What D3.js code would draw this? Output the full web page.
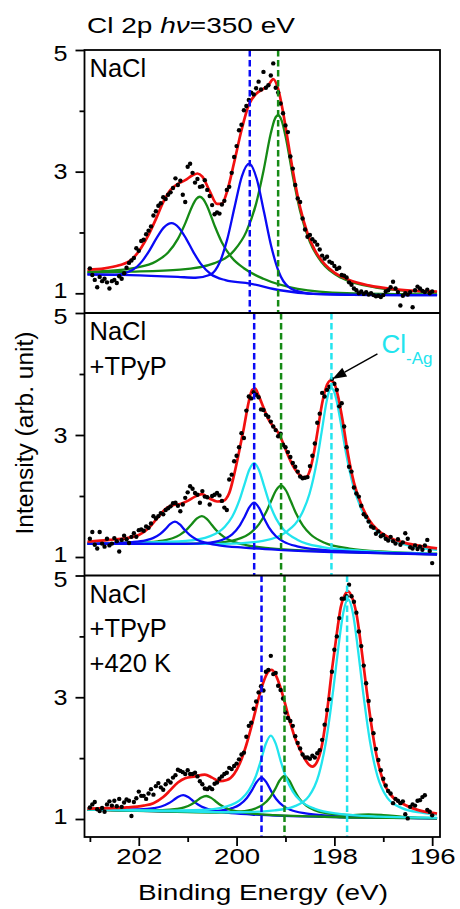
<!DOCTYPE html>
<html><head><meta charset="utf-8">
<script src="https://cdn.jsdelivr.net/npm/d3@7/dist/d3.min.js"></script>
<style>
html,body{margin:0;padding:0;background:#fff;}
svg{display:block;}
text{font-family:"Liberation Sans",Arial,Helvetica,sans-serif;fill:#000;}
</style></head><body>
<svg id="chart" width="460" height="909"></svg>
<script>
// ---------------- data ----------------
const xTicks = [202, 200, 198, 196];
const xMinor = [203, 201, 199, 197];
const yTicks = [1, 3, 5];
const yMinor = [2, 4];
const dotStart = 203.0, dotStep = 0.05;

const topDots = [1.41,1.30,1.22,1.10,1.27,1.20,1.24,1.18,1.08,1.20,
1.22,1.17,1.28,1.24,1.33,1.42,1.50,1.54,1.58,1.74,
1.70,1.86,1.88,1.97,2.03,2.10,2.28,2.35,2.44,2.48,
2.58,2.55,2.62,2.66,2.73,2.89,2.78,2.85,2.62,2.50,
3.08,3.13,2.98,2.82,2.88,2.75,2.76,2.86,2.70,2.60,
2.45,2.30,2.33,2.31,2.46,2.52,2.70,2.75,2.98,3.24,
3.42,3.68,3.77,4.01,4.08,4.18,4.30,4.27,4.37,4.48,
4.35,4.64,4.38,4.42,4.58,4.78,4.38,4.30,4.12,3.96,
3.76,3.65,3.25,3.05,2.78,2.56,2.50,2.23,2.05,1.93,
1.96,1.89,1.85,1.80,1.72,1.62,1.57,1.60,1.52,1.50,
1.45,1.40,1.42,1.30,1.29,1.26,1.18,1.14,1.08,1.05,
1.00,1.03,0.99,1.02,0.98,1.00,0.97,0.95,0.96,0.94,
0.97,1.03,1.05,1.10,1.19,1.08,1.02,0.80,0.96,1.00,
0.98,1.02,0.77,1.05,1.11,1.08,1.04,1.02,1.06,1.00,
1.03];

const midDots = [1.30,1.41,1.20,1.14,1.41,1.22,1.17,1.30,1.19,1.22,
1.31,1.26,1.09,1.28,1.35,1.29,1.23,1.33,1.39,1.33,
1.44,1.45,1.43,1.50,1.48,1.55,1.67,1.63,1.67,1.72,
1.70,1.77,1.80,1.83,1.88,1.89,1.84,1.75,1.86,1.97,
2.06,2.16,2.12,2.05,2.02,1.89,2.08,1.99,1.98,1.86,
2.00,2.02,2.05,2.01,1.92,1.81,1.77,2.27,2.35,2.57,
2.66,2.80,3.03,2.95,3.40,3.63,3.60,3.70,3.66,3.62,
3.42,3.41,3.33,3.30,3.22,3.14,3.08,2.98,3.02,2.84,
2.80,2.72,2.64,2.54,2.48,2.40,2.32,2.29,2.30,2.31,
2.49,2.66,2.86,3.20,3.35,3.69,3.63,3.74,3.79,3.92,
3.84,3.74,3.47,3.52,3.14,2.80,2.48,2.40,2.14,2.04,
1.99,1.84,1.70,1.66,1.58,1.50,1.48,1.38,1.42,1.34,
1.36,1.30,1.27,1.33,1.26,1.22,1.29,1.20,1.24,1.39,
1.30,1.16,1.14,1.19,1.13,1.17,1.12,1.19,1.28,1.10,
0.90];

const botDots = [1.19,1.24,1.28,1.16,1.13,1.18,1.12,1.24,1.29,1.22,
1.30,1.21,1.33,1.20,1.27,1.32,1.30,1.05,1.28,1.34,
1.45,1.38,1.38,1.33,1.42,1.49,1.40,1.54,1.59,1.52,
1.48,1.57,1.63,1.60,1.68,1.72,1.81,1.79,1.77,1.74,
1.80,1.74,1.74,1.76,1.70,1.62,1.57,1.50,1.49,1.52,
1.49,1.58,1.60,1.66,1.70,1.74,1.76,1.84,1.82,1.87,
1.91,1.98,2.06,2.09,2.35,2.53,2.58,2.81,2.93,3.08,
3.18,3.11,3.42,3.45,3.68,3.38,3.40,3.19,3.12,2.98,
2.75,2.66,2.61,2.53,2.36,2.25,2.16,2.06,2.01,2.01,
1.99,2.04,2.01,2.08,2.13,2.30,2.55,2.79,2.97,3.42,
3.78,4.00,4.30,4.62,4.62,4.66,4.85,4.66,4.57,4.39,
4.08,3.84,3.52,3.23,2.94,2.63,2.41,2.15,1.97,1.80,
1.66,1.55,1.46,1.42,1.26,1.33,1.30,1.26,1.29,1.08,
1.01,1.20,1.24,1.22,1.30,1.31,1.36,1.39,1.15,1.12,
1.06];

// --- top panel (NaCl) fitted curves [binding energy, intensity]
const topBlue1 = [[203.05,1.31],[202.5,1.304],[202.13,1.384],[201.93,1.529],[201.78,1.707],[201.63,1.917],[201.48,2.089],[201.33,2.154],[201.18,2.079],[201.03,1.896],[200.88,1.674],[200.73,1.483],[200.53,1.317],[200.23,1.217],[199.73,1.16],[199.11,1.05],[198.43,0.99],[197.68,0.975],[195.9,0.97]];
const topBlue2 = [[203.05,1.31],[202.18,1.30],[201.2,1.27],[200.84,1.256],[200.54,1.305],[200.34,1.518],[200.19,1.89],[200.04,2.421],[199.89,2.928],[199.74,3.131],[199.59,2.888],[199.44,2.341],[199.29,1.77],[199.14,1.358],[198.94,1.106],[198.64,1.012],[198.43,0.99],[197.68,0.975],[195.9,0.97]];
const topGreen1 = [[203.05,1.353],[202.75,1.363],[202.05,1.423],[201.65,1.524],[201.4,1.671],[201.2,1.894],[201.05,2.149],[200.9,2.444],[200.82,2.554],[200.75,2.587],[200.68,2.547],[200.6,2.428],[200.45,2.113],[200.3,1.836],[200.1,1.589],[199.85,1.412],[199.45,1.238],[198.75,1.074],[197.75,1.001],[196.75,0.987],[195.9,0.98]];
const topGreen2 = [[203.05,1.343],[202.15,1.355],[201.15,1.388],[200.45,1.497],[200.05,1.704],[199.8,2.014],[199.6,2.474],[199.45,3.011],[199.3,3.63],[199.22,3.862],[199.15,3.927],[199.08,3.842],[199.0,3.586],[198.85,2.927],[198.7,2.351],[198.5,1.843],[198.25,1.50],[197.85,1.25],[197.15,1.095],[196.15,1.025],[195.9,1.017]];
const topRed = [[203.05,1.39],[202.7,1.41],[202.4,1.46],[202.15,1.55],[201.95,1.75],[201.8,1.96],[201.65,2.22],[201.5,2.50],[201.35,2.70],[201.2,2.80],[201.05,2.86],[200.9,2.94],[200.8,2.97],[200.7,2.92],[200.55,2.68],[200.4,2.47],[200.3,2.47],[200.2,2.66],[200.05,3.15],[199.9,3.68],[199.75,4.10],[199.6,4.28],[199.45,4.36],[199.35,4.42],[199.25,4.52],[199.15,4.36],[199.05,3.98],[198.95,3.50],[198.85,3.02],[198.7,2.41],[198.55,1.99],[198.4,1.71],[198.2,1.48],[198.0,1.34],[197.7,1.22],[197.3,1.13],[196.8,1.07],[196.3,1.04],[195.9,1.03]];

// --- middle panel (NaCl + TPyP)
const midBlue1 = [[203.05,1.219],[202.5,1.229],[202.16,1.243],[201.86,1.273],[201.71,1.309],[201.56,1.379],[201.46,1.453],[201.36,1.539],[201.26,1.581],[201.16,1.534],[201.06,1.443],[200.96,1.363],[200.81,1.284],[200.66,1.239],[200.36,1.192],[199.86,1.153],[199.06,1.114],[198.06,1.082],[196.9,1.059],[195.9,1.041]];
const midGreen1 = [[203.05,1.22],[202.3,1.231],[201.81,1.243],[201.61,1.257],[201.31,1.308],[201.16,1.363],[201.01,1.457],[200.91,1.545],[200.81,1.633],[200.71,1.671],[200.61,1.626],[200.51,1.53],[200.41,1.434],[200.26,1.33],[200.11,1.264],[199.81,1.196],[199.31,1.143],[198.51,1.103],[197.51,1.074],[195.9,1.042]];
const midBlue2 = [[203.05,1.216],[202.0,1.217],[201.04,1.215],[200.54,1.237],[200.24,1.298],[200.09,1.371],[199.94,1.509],[199.84,1.653],[199.74,1.813],[199.64,1.89],[199.54,1.805],[199.44,1.637],[199.34,1.486],[199.19,1.336],[199.04,1.252],[198.74,1.17],[198.24,1.115],[197.44,1.081],[196.24,1.052],[195.9,1.045]];
const midCyan1 = [[203.05,1.224],[202.0,1.235],[201.04,1.263],[200.54,1.342],[200.24,1.497],[200.09,1.66],[199.94,1.935],[199.84,2.186],[199.74,2.431],[199.64,2.54],[199.54,2.423],[199.44,2.17],[199.34,1.912],[199.19,1.625],[199.04,1.451],[198.74,1.275],[198.24,1.163],[197.44,1.101],[196.24,1.06],[195.9,1.052]];
const midGreen2 = [[203.05,1.219],[201.29,1.219],[200.49,1.229],[199.99,1.289],[199.69,1.413],[199.54,1.539],[199.39,1.745],[199.29,1.927],[199.19,2.097],[199.09,2.169],[198.99,2.09],[198.89,1.913],[198.79,1.725],[198.64,1.509],[198.49,1.373],[198.19,1.229],[197.69,1.139],[196.89,1.085],[195.9,1.053]];
const midCyan2 = [[203.05,1.222],[201.26,1.219],[200.26,1.214],[199.46,1.265],[198.96,1.425],[198.66,1.721],[198.51,2.033],[198.36,2.562],[198.26,3.051],[198.16,3.546],[198.11,3.71],[198.06,3.769],[198.01,3.72],[197.96,3.584],[197.86,3.158],[197.76,2.696],[197.61,2.155],[197.46,1.808],[197.16,1.452],[196.66,1.229],[196.2,1.147],[195.9,1.117]];
const midRed = [[203.05,1.25],[202.6,1.28],[202.25,1.31],[202.0,1.36],[201.8,1.47],[201.6,1.66],[201.45,1.79],[201.3,1.85],[201.15,1.87],[201.0,1.92],[200.85,1.99],[200.71,2.03],[200.55,1.96],[200.4,1.91],[200.28,1.92],[200.15,2.05],[200.05,2.35],[199.95,2.72],[199.85,3.12],[199.75,3.55],[199.68,3.74],[199.62,3.76],[199.55,3.65],[199.45,3.45],[199.35,3.26],[199.25,3.14],[199.15,3.04],[199.05,2.87],[198.95,2.67],[198.85,2.50],[198.75,2.38],[198.65,2.31],[198.58,2.31],[198.5,2.42],[198.42,2.70],[198.34,3.08],[198.25,3.52],[198.17,3.78],[198.08,3.89],[198.0,3.84],[197.92,3.62],[197.82,3.18],[197.72,2.68],[197.6,2.22],[197.45,1.86],[197.3,1.62],[197.1,1.43],[196.9,1.33],[196.6,1.24],[196.3,1.19],[195.9,1.14]];

// --- bottom panel (NaCl + TPyP + 420 K)
const botBlue1 = [[203.05,1.157],[202.49,1.153],[201.99,1.159],[201.69,1.179],[201.54,1.205],[201.39,1.257],[201.29,1.31],[201.19,1.367],[201.09,1.393],[200.99,1.361],[200.89,1.298],[200.79,1.239],[200.64,1.178],[200.49,1.143],[200.19,1.105],[199.69,1.074],[198.89,1.048],[197.89,1.029],[195.9,1.011]];
const botGreen1 = [[203.05,1.154],[202.02,1.143],[201.52,1.145],[201.22,1.165],[201.07,1.191],[200.92,1.243],[200.82,1.296],[200.72,1.353],[200.62,1.378],[200.52,1.347],[200.42,1.284],[200.32,1.225],[200.17,1.164],[200.02,1.129],[199.72,1.091],[199.22,1.062],[198.42,1.042],[197.42,1.021],[195.9,1.011]];
const botBlue2 = [[203.05,1.154],[201.69,1.13],[200.89,1.119],[200.39,1.134],[200.09,1.178],[199.94,1.234],[199.79,1.344],[199.69,1.465],[199.59,1.607],[199.49,1.68],[199.39,1.602],[199.29,1.455],[199.19,1.329],[199.04,1.211],[198.89,1.148],[198.59,1.091],[198.09,1.053],[197.29,1.026],[196.29,1.016],[195.9,1.014]];
const botCyan1 = [[203.05,1.158],[201.5,1.139],[200.7,1.149],[200.2,1.208],[199.9,1.331],[199.75,1.47],[199.6,1.718],[199.5,1.968],[199.4,2.241],[199.3,2.371],[199.2,2.237],[199.1,1.96],[199.0,1.705],[198.85,1.45],[198.7,1.304],[198.4,1.168],[197.9,1.084],[197.1,1.04],[196.1,1.022],[195.9,1.02]];
const botGreen2 = [[203.05,1.153],[201.22,1.117],[200.42,1.107],[199.92,1.123],[199.62,1.171],[199.47,1.231],[199.32,1.349],[199.22,1.479],[199.12,1.632],[199.02,1.71],[198.92,1.629],[198.82,1.472],[198.72,1.339],[198.57,1.215],[198.42,1.149],[198.12,1.087],[197.62,1.064],[197.3,1.075],[197.0,1.064],[196.6,1.036],[195.9,1.015]];
const botCyan2 = [[203.05,1.157],[200.92,1.12],[199.92,1.111],[199.22,1.142],[198.82,1.207],[198.52,1.375],[198.32,1.724],[198.17,2.278],[198.02,3.141],[197.92,3.808],[197.82,4.38],[197.72,4.61],[197.62,4.377],[197.52,3.801],[197.42,3.129],[197.27,2.264],[197.12,1.706],[196.92,1.352],[196.62,1.179],[196.22,1.104],[195.9,1.074]];
const botRed = [[203.05,1.17],[202.6,1.18],[202.25,1.19],[201.9,1.22],[201.7,1.26],[201.5,1.36],[201.36,1.47],[201.2,1.60],[201.05,1.67],[200.85,1.70],[200.65,1.73],[200.5,1.68],[200.35,1.62],[200.2,1.64],[200.05,1.74],[199.93,1.92],[199.8,2.22],[199.66,2.63],[199.55,2.98],[199.45,3.25],[199.35,3.42],[199.28,3.45],[199.18,3.33],[199.05,3.02],[198.95,2.72],[198.8,2.32],[198.64,2.04],[198.52,1.89],[198.45,1.86],[198.36,1.93],[198.27,2.15],[198.16,2.70],[198.05,3.45],[197.95,4.05],[197.87,4.48],[197.8,4.66],[197.72,4.74],[197.63,4.62],[197.55,4.38],[197.45,3.82],[197.35,3.18],[197.25,2.58],[197.14,2.05],[197.0,1.62],[196.85,1.40],[196.6,1.25],[196.3,1.15],[195.9,1.09]];

// peak-position markers (dashed lines)
const dashTop = [199.73, 199.15];
const dashMid = [199.64, 199.09, 198.06];
const dashBot = [199.49, 199.02, 197.74];

const labelsTop = ["NaCl"];
const labelsMid = ["NaCl", "+TPyP"];
const labelsBot = ["NaCl", "+TPyP", "+420 K"];
const clAgPeak = [198.06, 3.92];

// ---------------- styling ----------------
const colBlue = "#0a0af5", colGreen = "#158a15", colCyan = "#22e4ee", colRed = "#f21010";

const panels = [
  { dots: topDots, red: topRed, labels: labelsTop,
    curves: [[topGreen1, colGreen], [topGreen2, colGreen], [topBlue1, colBlue], [topBlue2, colBlue]],
    dash: [[dashTop[0], colBlue], [dashTop[1], colGreen]] },
  { dots: midDots, red: midRed, labels: labelsMid,
    curves: [[midGreen1, colGreen], [midGreen2, colGreen], [midCyan1, colCyan], [midCyan2, colCyan], [midBlue1, colBlue], [midBlue2, colBlue]],
    dash: [[dashMid[0], colBlue], [dashMid[1], colGreen], [dashMid[2], colCyan]] },
  { dots: botDots, red: botRed, labels: labelsBot,
    curves: [[botBlue1, colBlue], [botBlue2, colBlue], [botGreen1, colGreen], [botGreen2, colGreen], [botCyan1, colCyan], [botCyan2, colCyan]],
    dash: [[dashBot[0], colBlue], [dashBot[1], colGreen], [dashBot[2], colCyan]] }
];

// ---------------- layout ----------------
const svg = d3.select("#chart");
const left = 84.5, right = 440;
const panelTop = [50, 313, 575.5], panelBot = [313, 575.5, 837], oneY = [293.3, 557, 819];
const x = d3.scaleLinear().domain([203.11, 195.84]).range([left, right]);

const defs = svg.append("defs");

panels.forEach((p, i) => {
  const y = d3.scaleLinear().domain([1, 5]).range([oneY[i], panelTop[i]]);
  defs.append("clipPath").attr("id", "clip" + i)
    .append("rect").attr("x", left).attr("y", panelTop[i])
    .attr("width", right - left).attr("height", panelBot[i] - panelTop[i]);
  const g = svg.append("g").attr("clip-path", `url(#clip${i})`);
  const line = d3.line().x(d => x(d[0])).y(d => y(d[1])).curve(d3.curveMonotoneX);
  const sorted = arr => arr.slice().sort((a, b) => b[0] - a[0]);

  p.curves.forEach(([data, col]) => {
    g.append("path").attr("d", line(sorted(data))).attr("fill", "none")
      .attr("stroke", col).attr("stroke-width", 2.3).attr("stroke-linejoin", "round");
  });
  g.append("path").attr("d", line(sorted(p.red))).attr("fill", "none")
    .attr("stroke", colRed).attr("stroke-width", 2.7).attr("stroke-linejoin", "round");

  const pts = p.dots.map((v, k) => [dotStart - k * dotStep, v]);
  g.selectAll("circle.dot").data(pts).enter().append("circle")
    .attr("cx", d => x(d[0])).attr("cy", d => y(d[1])).attr("r", 2.2).attr("fill", "#000");

  p.dash.forEach(([e, col]) => {
    g.append("line").attr("x1", x(e)).attr("x2", x(e))
      .attr("y1", panelTop[i]).attr("y2", panelBot[i])
      .attr("stroke", col).attr("stroke-width", 2.5).attr("stroke-dasharray", "6.5,3.5");
  });

  // panel labels
  p.labels.forEach((t, k) => {
    svg.append("text").attr("x", 89.5).attr("y", panelTop[i] + 27 + k * 34.5)
      .attr("font-size", 25.5).text(t);
  });

  // y axis
  const ya = d3.axisLeft(y).tickValues(yTicks).tickSize(9).tickPadding(8).tickFormat(d3.format("d"));
  const gy = svg.append("g").attr("transform", `translate(${left},0)`).call(ya);
  gy.attr("font-family", null).attr("font-size", null);
  gy.select(".domain").remove();
  gy.selectAll(".tick line").attr("stroke-width", 1.8);
  gy.selectAll(".tick text").attr("font-size", 22.5).attr("fill", "#000")
    .attr("textLength", 14).attr("lengthAdjust", "spacingAndGlyphs")
    .attr("dy", d => d === 5 ? "0.47em" : d === 1 ? "0.2em" : "0.32em");
  const ym = d3.axisLeft(y).tickValues(yMinor).tickSize(5).tickFormat("");
  const gym = svg.append("g").attr("transform", `translate(${left},0)`).call(ym);
  gym.select(".domain").remove();
  gym.selectAll(".tick line").attr("stroke-width", 1.8);

  if (i === 1) {
    // arrow pointing to the Cl-Ag peak
    const tip = [x(clAgPeak[0]) + 1, y(clAgPeak[1])];
    const tail = [tip[0] + 45, tip[1] - 25];
    const dx = tip[0] - tail[0], dy = tip[1] - tail[1], L = Math.hypot(dx, dy);
    const ux = dx / L, uy = dy / L, hl = 14, hw = 5;
    const base = [tip[0] - hl * ux, tip[1] - hl * uy];
    svg.append("line").attr("x1", tail[0]).attr("y1", tail[1]).attr("x2", base[0]).attr("y2", base[1])
      .attr("stroke", "#000").attr("stroke-width", 1.5);
    svg.append("path").attr("d", `M${tip[0]},${tip[1]}L${base[0] - hw * uy},${base[1] + hw * ux}L${base[0] + hw * uy},${base[1] - hw * ux}Z`)
      .attr("fill", "#000");
    const lab = svg.append("text").attr("x", tail[0] + 4).attr("y", tail[1] - 1)
      .attr("font-size", 26).style("fill", colCyan);
    lab.append("tspan").text("Cl");
    lab.append("tspan").attr("font-size", 17).attr("dy", 11).text("-Ag");
  }
});

// frame
svg.append("rect").attr("x", left).attr("y", panelTop[0]).attr("width", right - left)
  .attr("height", panelBot[2] - panelTop[0]).attr("fill", "none").attr("stroke", "#000").attr("stroke-width", 1.8);
[panelBot[0], panelBot[1]].forEach(yy => {
  svg.append("line").attr("x1", left).attr("x2", right).attr("y1", yy).attr("y2", yy)
    .attr("stroke", "#000").attr("stroke-width", 1.8);
});

// x axis
const xa = d3.axisBottom(x).tickValues(xTicks).tickSize(9).tickPadding(2).tickFormat(d3.format("d"));
const gx = svg.append("g").attr("transform", `translate(0,${panelBot[2]})`).call(xa);
gx.attr("font-family", null).attr("font-size", null);
gx.select(".domain").remove();
gx.selectAll(".tick line").attr("stroke-width", 1.8);
gx.selectAll(".tick text").attr("font-size", 22.5).attr("fill", "#000")
  .attr("textLength", 46).attr("lengthAdjust", "spacingAndGlyphs");
const xm = d3.axisBottom(x).tickValues(xMinor).tickSize(5).tickFormat("");
const gxm = svg.append("g").attr("transform", `translate(0,${panelBot[2]})`).call(xm);
gxm.select(".domain").remove();
gxm.selectAll(".tick line").attr("stroke-width", 1.8);

// titles
svg.append("text").attr("x", 263).attr("y", 900).attr("text-anchor", "middle")
  .attr("font-size", 22.5).attr("textLength", 250).attr("lengthAdjust", "spacingAndGlyphs")
  .text("Binding Energy (eV)");
svg.append("text").attr("transform", "translate(33,433) rotate(-90)").attr("text-anchor", "middle")
  .attr("font-size", 23).attr("textLength", 203).attr("lengthAdjust", "spacingAndGlyphs")
  .text("Intensity (arb. unit)");
const title = svg.append("text").attr("x", 87).attr("y", 33).attr("font-size", 22.5)
  .attr("textLength", 208).attr("lengthAdjust", "spacingAndGlyphs");
title.append("tspan").text("Cl 2p ");
title.append("tspan").attr("font-style", "italic").text("hν");
title.append("tspan").text("=350 eV");
</script>
</body></html>
